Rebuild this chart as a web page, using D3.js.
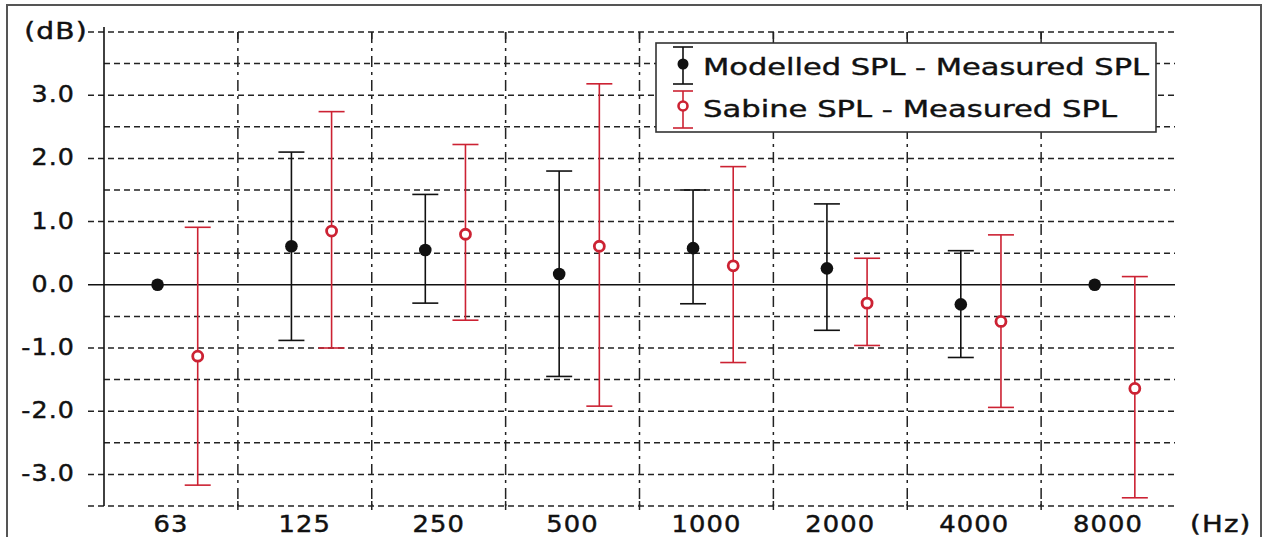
<!DOCTYPE html>
<html>
  <head>
    <title>SPL difference per octave band</title>
    <script src="https://d3js.org/d3.v7.min.js"></script>
    <style>
      body, html {
        margin: 0;
        width: 100%;
        height: 100%;
        overflow: hidden;
        background: #fff;
      }
      #chart {
        position: absolute;
        top: 0;
        left: 0;
      }
      .label {
        font-family: 'DejaVu Sans', sans-serif;
        font-size: 23px;
        letter-spacing: 1px;
        fill: #111;
        stroke: #111;
        stroke-width: 0.45px;
      }
      .legendText {
        font-family: 'DejaVu Sans', sans-serif;
        font-size: 23px;
        fill: #111;
        stroke: #111;
        stroke-width: 0.4px;
      }
      .hgrid {
        stroke: #222;
        stroke-width: 1.5px;
        stroke-dasharray: 6,4;
      }
      .vgrid {
        stroke: #222;
        stroke-width: 1.5px;
        stroke-dasharray: 11,5,3,5;
      }
    </style>
  </head>
  <body>
    <svg id="chart" width="1266" height="537"></svg>
    <script>
      // octave bands and values (dB)
      const bands = ["63", "125", "250", "500", "1000", "2000", "4000", "8000"];

      const modelledMean = [0.0, 0.61, 0.55, 0.17, 0.58, 0.26, -0.31, 0.0];
      const modelledHigh = [null, 2.10, 1.43, 1.80, 1.50, 1.28, 0.54, null];
      const modelledLow  = [null, -0.88, -0.29, -1.45, -0.30, -0.72, -1.15, null];

      const sabineMean = [-1.13, 0.85, 0.80, 0.61, 0.30, -0.29, -0.58, -1.64];
      const sabineHigh = [0.91, 2.74, 2.22, 3.18, 1.87, 0.42, 0.79, 0.13];
      const sabineLow  = [-3.17, -1.00, -0.56, -1.92, -1.23, -0.96, -1.94, -3.37];

      const yTicks = [3, 2, 1, 0, -1, -2, -3];
      const yTickLabels = ["3.0", "2.0", "1.0", "0.0", "-1.0", "-2.0", "-3.0"];
      const yGrid = d3.range(-3.5, 4.01, 0.5);

      const legendLabels = ["Modelled SPL - Measured SPL", "Sabine SPL - Measured SPL"];
      const red = "#cc2233";

      const svg = d3.select("#chart");

      // the original font is a wide bitmap face, so widen the glyphs a bit
      function widen(sel, f) {
        sel.each(function() {
          const w = this.getComputedTextLength();
          d3.select(this).attr("textLength", w * f).attr("lengthAdjust", "spacingAndGlyphs");
        });
      }

      // outer frame
      svg.append("rect")
        .attr("x", 7).attr("y", 5)
        .attr("width", 1254).attr("height", 540)
        .attr("fill", "#fff")
        .attr("stroke", "#555")
        .attr("stroke-width", 2);

      const left = 104, right = 1175;
      const x = d3.scaleBand().domain(bands).range([left, right]);
      const y = d3.scaleLinear().domain([-3.5, 4]).range([506, 32]);

      const grid = svg.append("g");

      // horizontal dashed lines, labelled ones reach out to the labels
      grid.selectAll("line.h")
        .data(yGrid.filter(v => Math.abs(v) > 1e-9))
        .enter().append("line")
        .attr("class", "hgrid")
        .attr("x1", v => (Number.isInteger(v) || v === -3.5) ? 88 : left)
        .attr("x2", right)
        .attr("y1", v => y(v)).attr("y2", v => y(v));

      // vertical dash-dot lines between bands
      const edges = bands.slice(1).map(b => x(b));
      grid.selectAll("line.v")
        .data(edges)
        .enter().append("line")
        .attr("class", "vgrid")
        .attr("x1", d => d).attr("x2", d => d)
        .attr("y1", y(4)).attr("y2", y(-3.5));

      // small solid ticks at top and bottom of those lines
      grid.selectAll("line.tt")
        .data(edges)
        .enter().append("line")
        .attr("x1", d => d).attr("x2", d => d)
        .attr("y1", y(4)).attr("y2", y(4) + 7)
        .attr("stroke", "#222").attr("stroke-width", 1.5);
      grid.selectAll("line.tb")
        .data(edges)
        .enter().append("line")
        .attr("x1", d => d).attr("x2", d => d)
        .attr("y1", y(-3.5) - 5).attr("y2", y(-3.5) + 4)
        .attr("stroke", "#222").attr("stroke-width", 1.5);

      // zero line and left axis
      grid.append("line")
        .attr("x1", 88).attr("x2", right)
        .attr("y1", y(0)).attr("y2", y(0))
        .attr("stroke", "#111").attr("stroke-width", 1.5);
      grid.append("line")
        .attr("x1", left).attr("x2", left)
        .attr("y1", y(4) - 5).attr("y2", y(-3.5))
        .attr("stroke", "#111").attr("stroke-width", 1.6);

      // y labels
      const yl = svg.selectAll("text.yl")
        .data(yTicks)
        .enter().append("text")
        .attr("class", "label")
        .attr("x", 75)
        .attr("y", d => y(d) + 7)
        .attr("text-anchor", "end")
        .text((d, i) => yTickLabels[i]);
      widen(yl, 1.1);
      const dbl = svg.append("text")
        .attr("class", "label")
        .attr("x", 88).attr("y", y(4) + 7)
        .attr("text-anchor", "end")
        .text("(dB)");
      widen(dbl, 1.22);

      // x labels
      const xl = svg.selectAll("text.xl")
        .data(bands)
        .enter().append("text")
        .attr("class", "label")
        .attr("x", d => x(d) + x.bandwidth() / 2)
        .attr("y", 532)
        .attr("text-anchor", "middle")
        .text(d => d);
      widen(xl, 1.12);
      const hz = svg.append("text")
        .attr("class", "label")
        .attr("x", 1190).attr("y", 532)
        .text("(Hz)");
      widen(hz, 1.2);

      // error bars
      const capHalf = 13;
      function drawSeries(mean, lo, hi, offset, colour, open) {
        const g = svg.append("g");
        const xs = i => x(bands[i]) + x.bandwidth() * offset;
        const idx = d3.range(bands.length).filter(i => lo[i] !== null);
        g.selectAll("line.stem").data(idx).enter().append("line")
          .attr("x1", xs).attr("x2", xs)
          .attr("y1", i => y(hi[i])).attr("y2", i => y(lo[i]))
          .attr("stroke", colour).attr("stroke-width", 1.6);
        [hi, lo].forEach(arr => {
          g.selectAll(null).data(idx).enter().append("line")
            .attr("x1", i => xs(i) - capHalf).attr("x2", i => xs(i) + capHalf)
            .attr("y1", i => y(arr[i])).attr("y2", i => y(arr[i]))
            .attr("stroke", colour).attr("stroke-width", 1.6);
        });
        g.selectAll("circle").data(d3.range(bands.length)).enter().append("circle")
          .attr("cx", xs)
          .attr("cy", i => y(mean[i]))
          .attr("r", open ? 5 : 6.3)
          .attr("fill", open ? "#fff" : colour)
          .attr("stroke", colour)
          .attr("stroke-width", open ? 2.8 : 0);
      }
      drawSeries(modelledMean, modelledLow, modelledHigh, 0.40, "#111", false);
      drawSeries(sabineMean, sabineLow, sabineHigh, 0.70, red, true);

      // legend
      const lg = svg.append("g");
      lg.append("rect")
        .attr("x", 656).attr("y", 43)
        .attr("width", 500).attr("height", 89)
        .attr("fill", "#fff")
        .attr("stroke", "#333").attr("stroke-width", 1.6);
      const legendItems = [
        {label: legendLabels[0], colour: "#111", open: false, top: 47, mid: 64, bot: 84, base: 75, w: 446},
        {label: legendLabels[1], colour: red, open: true, top: 91, mid: 106, bot: 128, base: 117, w: 414}
      ];
      legendItems.forEach((it, k) => {
        lg.append("line")
          .attr("x1", 683).attr("x2", 683).attr("y1", it.top).attr("y2", it.bot)
          .attr("stroke", it.colour).attr("stroke-width", 1.6);
        [it.top, it.bot].forEach(v => lg.append("line")
          .attr("x1", 673).attr("x2", 693).attr("y1", v).attr("y2", v)
          .attr("stroke", it.colour).attr("stroke-width", 1.6));
        lg.append("circle")
          .attr("cx", 683).attr("cy", it.mid)
          .attr("r", it.open ? 4.5 : 5.5)
          .attr("fill", it.open ? "#fff" : it.colour)
          .attr("stroke", it.colour)
          .attr("stroke-width", it.open ? 2.6 : 0);
        lg.append("text")
          .attr("class", "legendText")
          .attr("x", 703).attr("y", it.base)
          .attr("stroke-width", k === 0 ? 0.9 : 0.4)
          .attr("textLength", it.w)
          .attr("lengthAdjust", "spacingAndGlyphs")
          .text(it.label);
      });
    </script>
  </body>
</html>
